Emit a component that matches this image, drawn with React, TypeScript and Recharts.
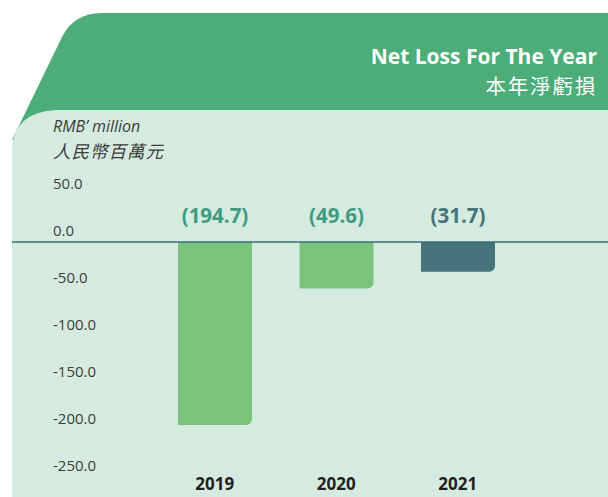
import { Bar, BarChart, Cell, LabelList, ReferenceLine, XAxis, YAxis } from 'recharts'

const years = ['2019', '2020', '2021']
const netLoss = [-194.7, -49.6, -31.7]
const barColors = ['#79c47a', '#79c47a', '#46737c']
const labelColors = ['#3f9a80', '#3f9a80', '#46737c']
const yTicks = [50, 0, -50, -100, -150, -200, -250]

const data = years.map((year, i) => ({ year, value: netLoss[i] }))

const fmt = (v: number) => (v < 0 ? `(${Math.abs(v).toFixed(1)})` : v.toFixed(1))

const YTick = (props: any) => {
  const { y, payload } = props
  return (
    <text x={53} y={y - 12} dominantBaseline="central" fill="#3c3c3c" fontSize={15} fontFamily="Open Sans">
      {payload.value.toFixed(1)}
    </text>
  )
}

const XTick = (props: any) => {
  const { x, y, payload } = props
  return (
    <text x={x} y={y - 3} textAnchor="middle" dominantBaseline="central" fill="#231f20" fontSize={17} fontWeight={700} fontFamily="Open Sans">
      {payload.value}
    </text>
  )
}

const ValueLabel = (props: any) => {
  const { x, y, width, height, value, index } = props
  const top = Math.min(y, y + height)
  return (
    <text x={x + width / 2} y={top - 27} textAnchor="middle" dominantBaseline="central" fill={labelColors[index]} fontSize={20.5} fontWeight={700} fontFamily="Open Sans">
      {fmt(value)}
    </text>
  )
}

export default function App() {
  return (
    <div style={{ position: 'absolute', left: 0, top: 0, width: 608, height: 497, overflow: 'hidden', background: '#fff' }}>
      <svg width={608} height={497} style={{ position: 'absolute', left: 0, top: 0 }}>
        <path d="M 12 140 L 62 37 Q 74 13 102 13 L 608 13 L 608 140 Z" fill="#4cad78" />
        <path d="M 12 497 L 12 146 Q 16 112 56 110 L 608 110 L 608 497 Z" fill="#d6ebdf" />
        <text x={597} y={55.5} textAnchor="end" dominantBaseline="central" fill="#fff" fontSize={21} fontWeight={700} fontFamily="Open Sans">
          Net Loss For The Year
        </text>
        <text x={597} y={84.5} textAnchor="end" dominantBaseline="central" fill="#fff" fontSize={20.5} fontFamily="Noto Sans CJK TC" letterSpacing={1.8}>
          本年淨虧損
        </text>
        <text x={53} y={125.5} dominantBaseline="central" fill="#3c3c3c" fontSize={16} fontStyle="italic" fontFamily="Open Sans">
          RMB’ million
        </text>
        <text x={53} y={150} dominantBaseline="central" fill="#3c3c3c" fontSize={17.5} fontStyle="italic" fontFamily="Noto Sans CJK TC" letterSpacing={1}>
          人民幣百萬元
        </text>
      </svg>
      <div style={{ position: 'absolute', left: 0, top: 0 }}>
        <BarChart width={608} height={497} data={data} margin={{ top: 185.6, right: 0, bottom: 0, left: -28 }}>
          <XAxis
            dataKey="year"
            axisLine={false}
            tickLine={false}
            height={10.6}
            tickSize={0}
            tickMargin={0}
            padding={{ left: 142, right: 89.5 }}
            tick={<XTick />}
          />
          <YAxis
            width={40}
            domain={[-260, 60]}
            ticks={yTicks}
            axisLine={false}
            tickLine={false}
            tick={<YTick />}
            allowDataOverflow
          />
          <Bar dataKey="value" barSize={74} radius={[0, 6, 0, 0]} isAnimationActive={false}>
            {data.map((d, i) => (
              <Cell key={d.year} fill={barColors[i]} />
            ))}
            <LabelList dataKey="value" content={<ValueLabel />} />
          </Bar>
          <ReferenceLine y={0} stroke="#3e6e78" strokeWidth={1.3} />
        </BarChart>
      </div>
    </div>
  )
}
